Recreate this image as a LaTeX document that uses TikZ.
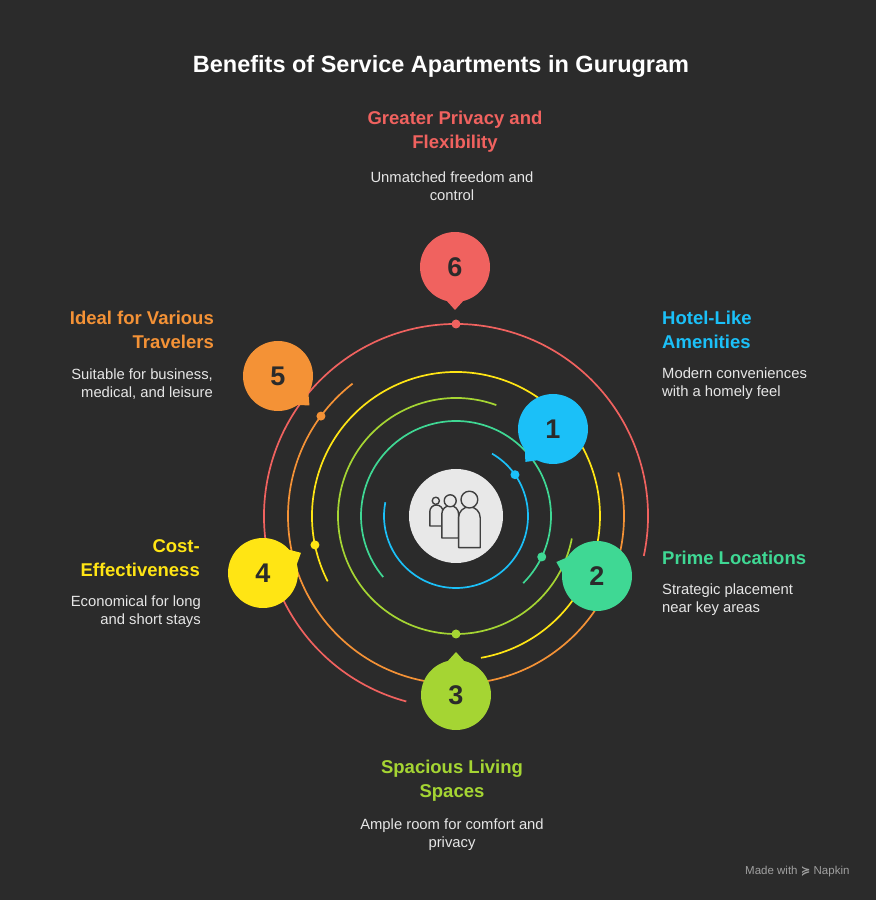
\documentclass[tikz,border=0pt]{standalone}
\usepackage{fontspec}
\setmainfont{Liberation Sans}
\newfontfamily\symf{DejaVu Sans}
\usetikzlibrary{calc}
\definecolor{bg}{HTML}{2B2B2B}
\definecolor{cblue}{HTML}{1BC0F8}
\definecolor{cgreen}{HTML}{3FD894}
\definecolor{cyg}{HTML}{A5D533}
\definecolor{cyel}{HTML}{FFE514}
\definecolor{corg}{HTML}{F49236}
\definecolor{cred}{HTML}{F0625F}
\definecolor{desc}{HTML}{E6E6E6}
\begin{document}
\begin{tikzpicture}[x=1pt,y=1pt,
  ring/.style={line width=1.7pt},
  head/.style={font=\bfseries\fontsize{18.5}{24}\selectfont,inner sep=0pt},
  dtext/.style={font=\fontsize{14.8}{18}\selectfont,text=desc,inner sep=0pt},
  num/.style={font=\bfseries\fontsize{27}{30}\selectfont,text=bg,inner sep=0pt}]
\fill[bg] (0,0) rectangle (876,900);
\useasboundingbox (0,0) rectangle (876,900);
\coordinate (C) at (456,384);
\node[font=\bfseries\fontsize{23.5}{27}\selectfont,text=white] (title) at (441,834) {Benefits of Service Apartments in Gurugram};
% rings
\draw[ring,cblue,shift={(C)}] (60:72) arc[start angle=60,end angle=-191,radius=72];
\draw[ring,cgreen,shift={(C)}] (-45:95) arc[start angle=-45,end angle=220,radius=95];
\draw[ring,cyg,shift={(C)}] (70:118) arc[start angle=70,end angle=349,radius=118];
\draw[ring,cyel,shift={(C)}] (207:144) arc[start angle=207,end angle=-80,radius=144];
\draw[ring,corg,shift={(C)}] (128:168) arc[start angle=128,end angle=375,radius=168];
\draw[ring,cred,shift={(C)}] (-12:192) arc[start angle=-12,end angle=255,radius=192];
% dots
\fill[cblue,shift={(C)}] (35:72) circle (4.5);
\fill[cgreen,shift={(C)}] (-25.5:95) circle (4.5);
\fill[cyg,shift={(C)}] (-90:118) circle (4.5);
\fill[cyel,shift={(C)}] (191.6:144) circle (4.5);
\fill[corg,shift={(C)}] (143.5:168) circle (4.5);
\fill[cred,shift={(C)}] (90:192) circle (4.5);
% bubbles
\foreach \n/\x/\y/\a/\c in {1/553/471/230/cblue,2/597/324/161/cgreen,3/456/205/90/cyg,4/263/327/28/cyel,5/278/524/-43/corg,6/455/633/-90/cred}{
  \fill[\c,shift={(\x,\y)}] (\a:43) -- (\a+32:30) -- (\a-32:30) -- cycle;
  \node[circle,fill=\c,minimum size=70pt,inner sep=0pt] (b\n) at (\x,\y) {};
  \node[num] (n\n) at (\x,\y) {\n};
}
% center icon
\node[circle,fill=white!91!black,minimum size=94pt,inner sep=0pt] (icon) at (C) {};
\begin{scope}[shift={($(C)+(-1,-4)$)},scale=1.2,draw=bg!90,line width=1.4pt,fill=white!91!black,line join=round]
  \filldraw (-21,-5) -- (-21,7) arc[start angle=180,end angle=0,radius=5.5] -- (-10,-5) -- cycle;
  \filldraw (-16,16) circle (3);
  \filldraw (-11,-15) -- (-11,5) arc[start angle=180,end angle=0,radius=7] -- (3,-15) -- cycle;
  \filldraw (-4,16) circle (5);
  \filldraw (3,-23) -- (3,2) arc[start angle=180,end angle=0,radius=9] -- (21,-23) -- cycle;
  \filldraw (12,17) circle (7);
\end{scope}
% texts
\node[head,text=cred,align=center] (h6) at (455,768) {Greater Privacy and\\Flexibility};
\node[dtext,align=center] (d6) at (452,714) {Unmatched freedom and\\control};
\node[head,text=corg,align=right,anchor=east] (h5) at (214,570) {Ideal for Various\\Travelers};
\node[dtext,align=right,anchor=east] (d5) at (213,516) {Suitable for business,\\medical, and leisure};
\node[head,text=cblue,align=left,anchor=west] (h1) at (662,570) {Hotel-Like\\Amenities};
\node[dtext,align=left,anchor=west] (d1) at (662,516) {Modern conveniences\\with a homely feel};
\node[head,text=cyel,align=right,anchor=east] (h4) at (200,342) {Cost-\\Effectiveness};
\node[dtext,align=right,anchor=east] (d4) at (201,288) {Economical for long\\and short stays};
\node[head,text=cgreen,anchor=west] (h2) at (662,342) {Prime Locations};
\node[dtext,align=left,anchor=west] (d2) at (662,300) {Strategic placement\\near key areas};
\node[head,text=cyg,align=center] (h3) at (452,119) {Spacious Living\\Spaces};
\node[dtext,align=center] (d3) at (452,65) {Ample room for comfort and\\privacy};
\node[font=\fontsize{11.5}{12}\selectfont,text=white!55!bg,anchor=east] (mw) at (853,28) {Made with {\symf\bfseries ≽} Napkin};
\end{tikzpicture}
\end{document}
